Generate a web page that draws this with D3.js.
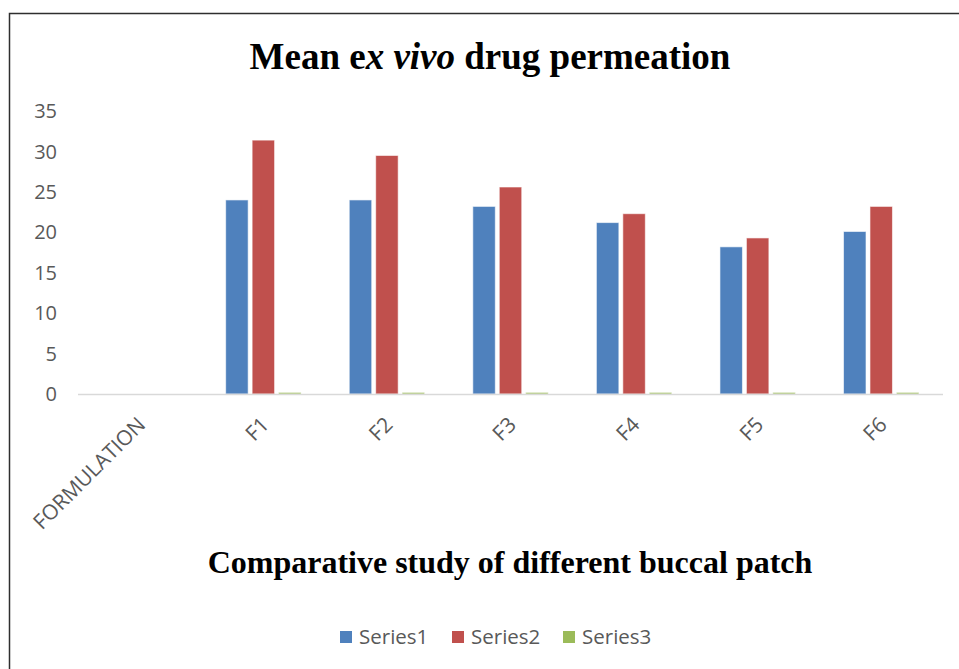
<!DOCTYPE html>
<html>
<head>
<meta charset="utf-8">
<script src="https://cdn.jsdelivr.net/npm/d3@7"></script>
<style>
  body { margin: 0; background: #fff; }
  svg { display: block; }
</style>
</head>
<body>
<div id="chart"></div>
<script>
// data
const categories = ["FORMULATION", "F1", "F2", "F3", "F4", "F5", "F6"];
const seriesNames = ["Series1", "Series2", "Series3"];
const series1 = [null, 24.0, 24.0, 23.2, 21.2, 18.2, 20.1];
const series2 = [null, 31.4, 29.5, 25.6, 22.3, 19.3, 23.2];
const series3 = [null, 0.2, 0.2, 0.2, 0.2, 0.2, 0.2];
const yTicks = [0, 5, 10, 15, 20, 25, 30, 35];

const colors = ["#4F81BD", "#C0504D", "#9BBB59"];
const allSeries = [series1, series2, series3];

const width = 959, height = 669;
const margin = { top: 111, right: 16, bottom: 275, left: 78 };

const svg = d3.select("#chart").append("svg")
    .attr("width", width)
    .attr("height", height);

// outer frame (runs off the right and bottom edges)
svg.append("rect")
    .attr("x", 9.5).attr("y", 13.5)
    .attr("width", 1000).attr("height", 700)
    .attr("fill", "none")
    .attr("stroke", "#2e2e2e")
    .attr("stroke-width", 1.5);

const x0 = d3.scaleBand()
    .domain(categories)
    .range([margin.left, width - margin.right]);

const groupW = x0.bandwidth() * 0.61;
const x1 = d3.scaleBand()
    .domain(seriesNames)
    .range([0, groupW])
    .paddingInner(0.15);

const y = d3.scaleLinear()
    .domain([0, 35])
    .range([height - margin.bottom, margin.top]);

// y tick labels (no axis line, no gridlines)
svg.append("g")
    .selectAll("text")
    .data(yTicks)
    .enter().append("text")
    .attr("x", 57)
    .attr("y", d => y(d))
    .attr("dy", "0.36em")
    .attr("text-anchor", "end")
    .style("font-family", "'Open Sans', sans-serif")
    .style("font-size", "20px")
    .style("fill", "#595959")
    .text(d => d);

// bars
const groups = svg.append("g")
    .selectAll("g")
    .data(categories)
    .enter().append("g")
    .attr("transform", d => `translate(${x0(d) + (x0.bandwidth() - groupW) / 2},0)`);

groups.selectAll("rect")
    .data((d, i) => seriesNames.map((s, j) => ({ s, v: allSeries[j][i], c: colors[j] })))
    .enter().filter(d => d.v != null).append("rect")
    .attr("x", d => x1(d.s))
    .attr("y", d => y(d.v))
    .attr("width", x1.bandwidth())
    .attr("height", d => y(0) - y(d.v))
    .style("fill", d => d.c)
    .style("stroke", "#ffffff")
    .style("stroke-opacity", 0.6)
    .style("stroke-width", "1px");

// baseline
svg.append("line")
    .attr("x1", margin.left).attr("x2", width - margin.right)
    .attr("y1", y(0) + 0.5).attr("y2", y(0) + 0.5)
    .style("stroke", "#d9d9d9")
    .style("stroke-width", "1.5px");

// rotated category labels
svg.append("g")
    .selectAll("text")
    .data(categories)
    .enter().append("text")
    .attr("transform", d => `translate(${x0(d) + x0.bandwidth() / 2 + 7}, 426) rotate(-45)`)
    .attr("text-anchor", "end")
    .style("font-family", "'Open Sans', sans-serif")
    .style("font-size", "21px")
    .style("fill", "#595959")
    .text(d => d);

// chart title
const title = svg.append("text")
    .attr("x", 490)
    .attr("y", 69)
    .attr("text-anchor", "middle")
    .style("font-family", "'Liberation Serif', 'Times New Roman', serif")
    .style("font-weight", "bold")
    .style("font-size", "37px")
    .style("fill", "#000");
title.append("tspan").text("Mean e");
title.append("tspan").style("font-style", "italic").text("x vivo");
title.append("tspan").text(" drug permeation");

// x axis title
svg.append("text")
    .attr("x", 510)
    .attr("y", 573)
    .attr("text-anchor", "middle")
    .style("font-family", "'Liberation Serif', 'Times New Roman', serif")
    .style("font-weight", "bold")
    .style("font-size", "32px")
    .style("fill", "#000")
    .text("Comparative study of different buccal patch");

// legend
const legendX = [340, 452, 563];
const legend = svg.append("g")
    .selectAll("g")
    .data(seriesNames)
    .enter().append("g")
    .attr("transform", (d, i) => `translate(${legendX[i]},631)`);

legend.append("rect")
    .attr("width", 12).attr("height", 12)
    .style("fill", (d, i) => colors[i]);

legend.append("text")
    .attr("x", 19)
    .attr("y", 6)
    .attr("dy", "0.36em")
    .style("font-family", "'Open Sans', sans-serif")
    .style("font-size", "20.5px")
    .style("fill", "#595959")
    .text(d => d);
</script>
</body>
</html>
